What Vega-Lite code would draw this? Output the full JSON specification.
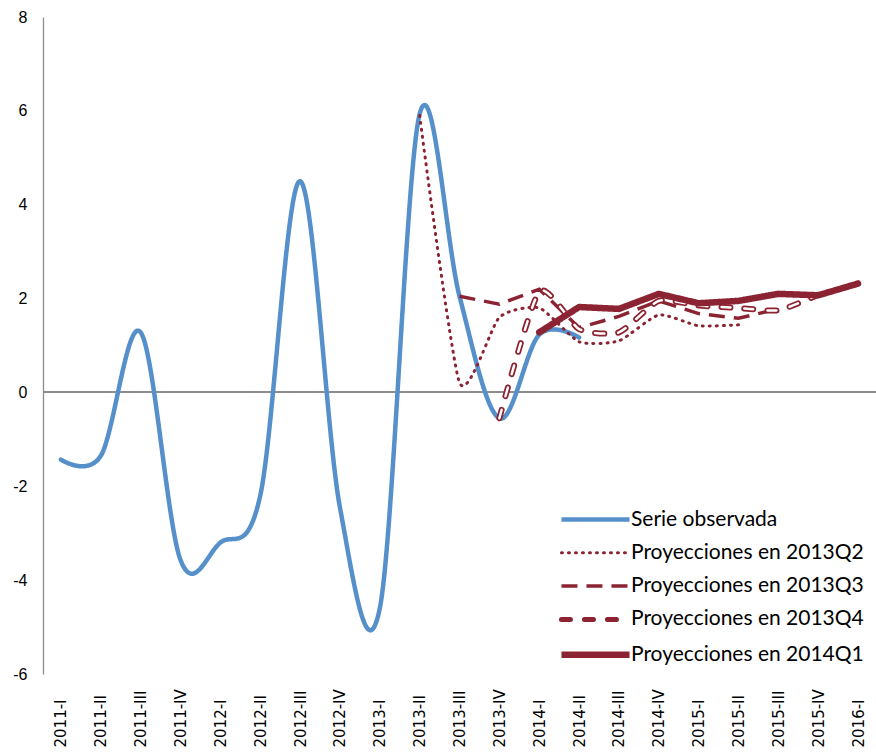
{
  "$schema": "https://vega.github.io/schema/vega-lite/v6.json",
  "width": 833,
  "height": 657,
  "autosize": {"type": "none"},
  "padding": {"left": 43, "top": 17, "right": 0, "bottom": 79},
  "background": "white",
  "datasets": {
    "d": [
      {"periodo": "2011-I", "serie": "Serie observada", "valor": -1.43},
      {"periodo": "2011-II", "serie": "Serie observada", "valor": -1.35},
      {"periodo": "2011-III", "serie": "Serie observada", "valor": 1.28},
      {"periodo": "2011-IV", "serie": "Serie observada", "valor": -3.57},
      {"periodo": "2012-I", "serie": "Serie observada", "valor": -3.2},
      {"periodo": "2012-II", "serie": "Serie observada", "valor": -2.2},
      {"periodo": "2012-III", "serie": "Serie observada", "valor": 4.5},
      {"periodo": "2012-IV", "serie": "Serie observada", "valor": -2.45},
      {"periodo": "2013-I", "serie": "Serie observada", "valor": -4.6},
      {"periodo": "2013-II", "serie": "Serie observada", "valor": 5.93},
      {"periodo": "2013-III", "serie": "Serie observada", "valor": 2.05},
      {"periodo": "2013-IV", "serie": "Serie observada", "valor": -0.55},
      {"periodo": "2014-I", "serie": "Serie observada", "valor": 1.23},
      {"periodo": "2014-II", "serie": "Serie observada", "valor": 1.17},
      {"periodo": "2013-II", "serie": "Proyecciones en 2013Q2", "valor": 5.9},
      {"periodo": "2013-III", "serie": "Proyecciones en 2013Q2", "valor": 0.21},
      {"periodo": "2013-IV", "serie": "Proyecciones en 2013Q2", "valor": 1.6},
      {"periodo": "2014-I", "serie": "Proyecciones en 2013Q2", "valor": 1.8},
      {"periodo": "2014-II", "serie": "Proyecciones en 2013Q2", "valor": 1.08},
      {"periodo": "2014-III", "serie": "Proyecciones en 2013Q2", "valor": 1.1},
      {"periodo": "2014-IV", "serie": "Proyecciones en 2013Q2", "valor": 1.65},
      {"periodo": "2015-I", "serie": "Proyecciones en 2013Q2", "valor": 1.42},
      {"periodo": "2015-II", "serie": "Proyecciones en 2013Q2", "valor": 1.44},
      {"periodo": "2013-III", "serie": "Proyecciones en 2013Q3", "valor": 2.05},
      {"periodo": "2013-IV", "serie": "Proyecciones en 2013Q3", "valor": 1.88},
      {"periodo": "2014-I", "serie": "Proyecciones en 2013Q3", "valor": 2.2},
      {"periodo": "2014-II", "serie": "Proyecciones en 2013Q3", "valor": 1.38},
      {"periodo": "2014-III", "serie": "Proyecciones en 2013Q3", "valor": 1.62},
      {"periodo": "2014-IV", "serie": "Proyecciones en 2013Q3", "valor": 1.95},
      {"periodo": "2015-I", "serie": "Proyecciones en 2013Q3", "valor": 1.68},
      {"periodo": "2015-II", "serie": "Proyecciones en 2013Q3", "valor": 1.58},
      {"periodo": "2015-III", "serie": "Proyecciones en 2013Q3", "valor": 1.78},
      {"periodo": "2013-IV", "serie": "Proyecciones en 2013Q4", "valor": -0.55},
      {"periodo": "2014-I", "serie": "Proyecciones en 2013Q4", "valor": 2.15},
      {"periodo": "2014-II", "serie": "Proyecciones en 2013Q4", "valor": 1.35},
      {"periodo": "2014-III", "serie": "Proyecciones en 2013Q4", "valor": 1.28},
      {"periodo": "2014-IV", "serie": "Proyecciones en 2013Q4", "valor": 1.95},
      {"periodo": "2015-I", "serie": "Proyecciones en 2013Q4", "valor": 1.85},
      {"periodo": "2015-II", "serie": "Proyecciones en 2013Q4", "valor": 1.8},
      {"periodo": "2015-III", "serie": "Proyecciones en 2013Q4", "valor": 1.75},
      {"periodo": "2015-IV", "serie": "Proyecciones en 2013Q4", "valor": 2.08},
      {"periodo": "2014-I", "serie": "Proyecciones en 2014Q1", "valor": 1.28},
      {"periodo": "2014-II", "serie": "Proyecciones en 2014Q1", "valor": 1.82},
      {"periodo": "2014-III", "serie": "Proyecciones en 2014Q1", "valor": 1.78},
      {"periodo": "2014-IV", "serie": "Proyecciones en 2014Q1", "valor": 2.1},
      {"periodo": "2015-I", "serie": "Proyecciones en 2014Q1", "valor": 1.9},
      {"periodo": "2015-II", "serie": "Proyecciones en 2014Q1", "valor": 1.95},
      {"periodo": "2015-III", "serie": "Proyecciones en 2014Q1", "valor": 2.1},
      {"periodo": "2015-IV", "serie": "Proyecciones en 2014Q1", "valor": 2.07},
      {"periodo": "2016-I", "serie": "Proyecciones en 2014Q1", "valor": 2.32}
    ]
  },
  "data": {"name": "d"},
  "encoding": {
    "x": {
      "field": "periodo", "type": "ordinal",
      "scale": {"type": "point", "padding": 0.45, "domain": ["2011-I","2011-II","2011-III","2011-IV","2012-I","2012-II","2012-III","2012-IV","2013-I","2013-II","2013-III","2013-IV","2014-I","2014-II","2014-III","2014-IV","2015-I","2015-II","2015-III","2015-IV","2016-I"]},
      "axis": {"title": null, "labelAngle": -90, "labelAlign": "left", "labelBaseline": "middle", "labelPadding": 73, "ticks": false, "domain": false, "labelFont": "DejaVu Sans", "labelFontSize": 15, "labelColor": "black", "labelOverlap": false}
    },
    "y": {
      "field": "valor", "type": "quantitative",
      "scale": {"domain": [-6, 8], "nice": false, "zero": false},
      "axis": {"title": null, "values": [-6,-4,-2,0,2,4,6,8], "labelExpr": "datum.value < 0 ? '-' + abs(datum.value) : '' + datum.value", "grid": false, "ticks": false, "domain": true, "domainColor": "#8c8c8c", "domainWidth": 1.3, "labelPadding": 16, "labelFont": "Liberation Sans", "labelFontSize": 16, "labelColor": "black"}
    },
    "color": {
      "field": "serie", "type": "nominal",
      "scale": {"domain": ["Serie observada","Proyecciones en 2013Q2","Proyecciones en 2013Q3","Proyecciones en 2013Q4","Proyecciones en 2014Q1"], "range": ["#5690CA","#8C2332","#8C2332","#8C2332","#8C2332"]},
      "legend": {
        "title": null,
        "encode": {"symbols": {"update": {
          "strokeWidth": {"signal": "datum.value === 'Serie observada' ? 4.5 : datum.value === 'Proyecciones en 2013Q2' ? 3 : datum.value === 'Proyecciones en 2013Q3' ? 3.5 : datum.value === 'Proyecciones en 2013Q4' ? 5 : 6.5"},
          "strokeCap": {"signal": "datum.value === 'Proyecciones en 2013Q2' || datum.value === 'Proyecciones en 2013Q4' ? 'round' : 'butt'"}
        }}}
      }
    },
    "strokeDash": {
      "field": "serie", "type": "nominal",
      "scale": {"domain": ["Serie observada","Proyecciones en 2013Q2","Proyecciones en 2013Q3","Proyecciones en 2013Q4","Proyecciones en 2014Q1"], "range": [[1,0],[1,6],[16,9],[9,14],[1,0]]},
      "legend": {
        "title": null,
        "encode": {"symbols": {"update": {
          "strokeWidth": {"signal": "datum.value === 'Serie observada' ? 4.5 : datum.value === 'Proyecciones en 2013Q2' ? 3 : datum.value === 'Proyecciones en 2013Q3' ? 3.5 : datum.value === 'Proyecciones en 2013Q4' ? 5 : 6.5"},
          "strokeCap": {"signal": "datum.value === 'Proyecciones en 2013Q2' || datum.value === 'Proyecciones en 2013Q4' ? 'round' : 'butt'"}
        }}}
      }
    }
  },
  "layer": [
    {
      "mark": {"type": "rule", "color": "#8c8c8c", "strokeWidth": 1.3},
      "encoding": {"y": {"datum": 0}, "x": null, "color": null, "strokeDash": null}
    },
    {
      "transform": [{"filter": "datum.serie === 'Serie observada'"}],
      "mark": {"type": "line", "interpolate": "cardinal", "strokeWidth": 4.5, "strokeCap": "round", "strokeJoin": "round"}
    },
    {
      "transform": [{"filter": "datum.serie === 'Proyecciones en 2013Q2'"}],
      "mark": {"type": "line", "interpolate": "cardinal", "tension": 0.4, "strokeWidth": 3, "strokeCap": "round"}
    },
    {
      "transform": [{"filter": "datum.serie === 'Proyecciones en 2013Q3'"}],
      "mark": {"type": "line", "interpolate": "linear", "strokeWidth": 3.5, "strokeCap": "butt"}
    },
    {
      "transform": [{"filter": "datum.serie === 'Proyecciones en 2013Q4'"}],
      "mark": {"type": "line", "interpolate": "cardinal", "tension": 0.4, "strokeWidth": 6, "strokeCap": "round"}
    },
    {
      "transform": [{"filter": "datum.serie === 'Proyecciones en 2013Q4'"}],
      "mark": {"type": "line", "interpolate": "cardinal", "tension": 0.4, "strokeCap": "round", "color": "white", "strokeWidth": 2.5, "strokeDash": [9, 14]},
      "encoding": {"color": null, "strokeDash": null}
    },
    {
      "transform": [{"filter": "datum.serie === 'Proyecciones en 2014Q1'"}],
      "mark": {"type": "line", "interpolate": "linear", "strokeWidth": 6.5, "strokeCap": "round", "strokeJoin": "round"}
    }
  ],
  "config": {
    "view": {"stroke": null},
    "legend": {
      "orient": "none",
      "legendX": 542,
      "legendY": 492,
      "padding": 0,
      "symbolType": "M-3,0H3",
      "symbolSize": 515,
      "symbolFillColor": "transparent",
      "labelOffset": 25,
      "rowPadding": 11.3,
      "labelFont": "Lato",
      "labelFontSize": 21,
      "labelColor": "black",
      "labelLimit": 400
    }
  }
}
